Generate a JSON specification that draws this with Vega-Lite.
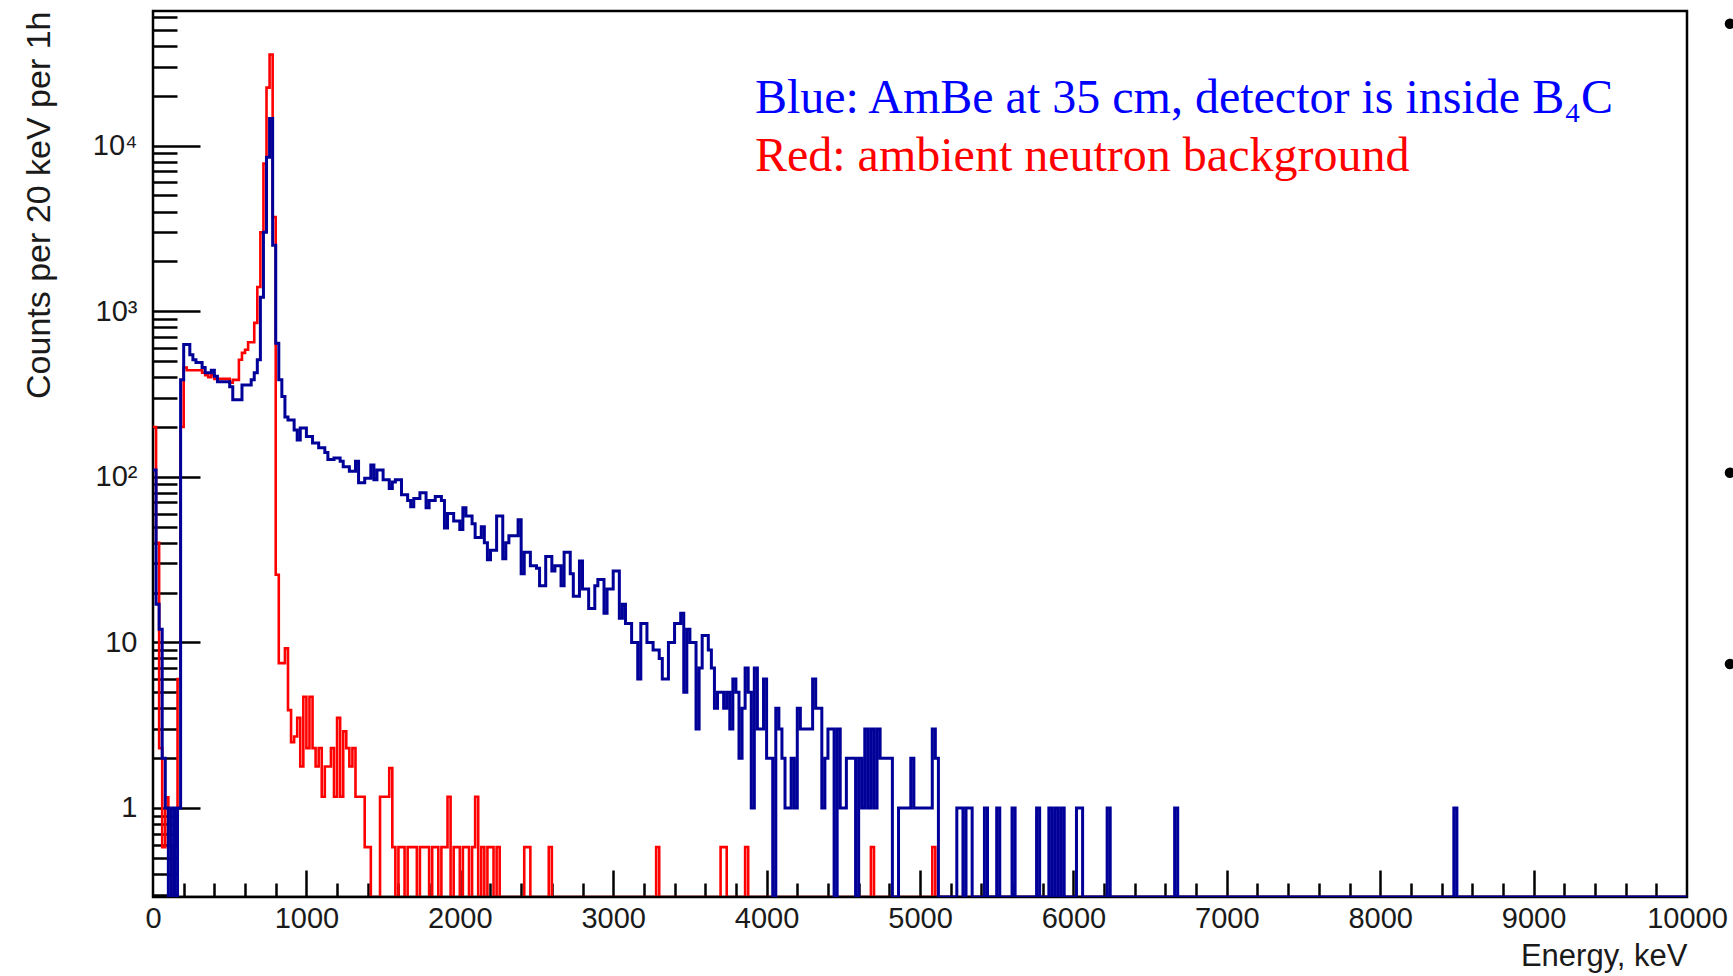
{
  "$schema": "https://vega.github.io/schema/vega-lite/v6.json",
  "width": 1534,
  "height": 886,
  "autosize": {"type": "none"},
  "padding": {"left": 153, "top": 11, "right": 46, "bottom": 79},
  "background": "white",
  "config": {"view": {"stroke": "black", "strokeWidth": 2.5}, "font": "Liberation Sans"},
  "datasets": {
    "spec": [
      {"e":0,"b":110,"r":200},{"e":20,"b":17,"r":40},{"e":40,"b":12,"r":2.3},{"e":60,"b":2,"r":0.58},{"e":80,"b":1,"r":1.16},
      {"e":100,"b":0,"r":0.58},{"e":120,"b":1,"r":0},{"e":140,"b":0,"r":0.58},{"e":160,"b":1,"r":6},{"e":180,"b":385,"r":200},
      {"e":200,"b":630,"r":457},{"e":220,"b":630,"r":440},{"e":240,"b":546,"r":440},{"e":260,"b":509,"r":440},{"e":280,"b":490,"r":440},
      {"e":300,"b":490,"r":440},{"e":320,"b":457,"r":425},{"e":340,"b":425,"r":410},{"e":360,"b":425,"r":400},{"e":380,"b":440,"r":410},
      {"e":400,"b":405,"r":390},{"e":420,"b":375,"r":390},{"e":440,"b":375,"r":390},{"e":460,"b":375,"r":390},{"e":480,"b":375,"r":390},
      {"e":500,"b":350,"r":370},{"e":520,"b":292,"r":385},{"e":540,"b":292,"r":385},{"e":560,"b":292,"r":509},{"e":580,"b":359,"r":560},
      {"e":600,"b":359,"r":585},{"e":620,"b":359,"r":650},{"e":640,"b":385,"r":650},{"e":660,"b":425,"r":850},{"e":680,"b":509,"r":1400},
      {"e":700,"b":1216,"r":3000},{"e":720,"b":3000,"r":7800},{"e":740,"b":8500,"r":22400},{"e":760,"b":14600,"r":35500},{"e":780,"b":2500,"r":3700},
      {"e":800,"b":640,"r":25.6},{"e":820,"b":385,"r":7.5},{"e":840,"b":305,"r":7.5},{"e":860,"b":230,"r":9.2},{"e":880,"b":220,"r":3.9},
      {"e":900,"b":220,"r":2.5},{"e":920,"b":192,"r":2.7},{"e":940,"b":167,"r":3.5},{"e":960,"b":197,"r":1.78},{"e":980,"b":197,"r":4.7},
      {"e":1000,"b":175,"r":2.3},{"e":1020,"b":175,"r":4.7},{"e":1040,"b":160,"r":2.3},{"e":1060,"b":160,"r":1.78},{"e":1080,"b":150,"r":2.3},
      {"e":1100,"b":150,"r":1.17},{"e":1120,"b":140,"r":1.78},{"e":1140,"b":127,"r":1.78},{"e":1160,"b":127,"r":2.3},{"e":1180,"b":130,"r":1.17},
      {"e":1200,"b":130,"r":3.5},{"e":1220,"b":124,"r":1.17},{"e":1240,"b":115,"r":2.9},{"e":1260,"b":115,"r":2.3},{"e":1280,"b":108,"r":1.78},
      {"e":1300,"b":108,"r":2.3},{"e":1320,"b":124,"r":1.17},{"e":1340,"b":92,"r":1.17},{"e":1360,"b":92,"r":1.17},{"e":1380,"b":98,"r":0.58},
      {"e":1400,"b":98,"r":0.58},{"e":1420,"b":118,"r":0},{"e":1440,"b":96,"r":0},{"e":1460,"b":110,"r":0},{"e":1480,"b":110,"r":1.17},
      {"e":1500,"b":96,"r":1.17},{"e":1520,"b":96,"r":1.17},{"e":1540,"b":85,"r":1.74},{"e":1560,"b":93,"r":0.58},{"e":1580,"b":96,"r":0},
      {"e":1600,"b":96,"r":0.58},{"e":1620,"b":78,"r":0.58},{"e":1640,"b":78,"r":0},{"e":1660,"b":72,"r":0.58},{"e":1680,"b":66,"r":0.58},
      {"e":1700,"b":74,"r":0.58},{"e":1720,"b":74,"r":0},{"e":1740,"b":80,"r":0.58},{"e":1760,"b":80,"r":0.58},{"e":1780,"b":65,"r":0.58},
      {"e":1800,"b":72,"r":0},{"e":1820,"b":72,"r":0.58},{"e":1840,"b":76,"r":0.58},{"e":1860,"b":76,"r":0},{"e":1880,"b":72,"r":0.58},
      {"e":1900,"b":49,"r":0.58},{"e":1920,"b":60,"r":1.17},{"e":1940,"b":60,"r":0},{"e":1960,"b":54,"r":0.58},{"e":1980,"b":54,"r":0.58},
      {"e":2000,"b":48,"r":0},{"e":2020,"b":65,"r":0.58},{"e":2040,"b":58,"r":0.58},{"e":2060,"b":58,"r":0},{"e":2080,"b":52,"r":0.58},
      {"e":2100,"b":43,"r":1.17},{"e":2120,"b":43,"r":0},{"e":2140,"b":50,"r":0.58},{"e":2160,"b":40,"r":0},{"e":2180,"b":31.5,"r":0.58},
      {"e":2200,"b":36,"r":0.58},{"e":2220,"b":36,"r":0},{"e":2240,"b":58,"r":0.58},{"e":2260,"b":58,"r":0},{"e":2280,"b":32,"r":0},
      {"e":2300,"b":40,"r":0},{"e":2320,"b":44,"r":0},{"e":2340,"b":44,"r":0},{"e":2360,"b":44,"r":0},{"e":2380,"b":55,"r":0},
      {"e":2400,"b":26,"r":0},{"e":2420,"b":35,"r":0.58},{"e":2440,"b":35,"r":0.58},{"e":2460,"b":29,"r":0},{"e":2480,"b":29,"r":0},
      {"e":2500,"b":28,"r":0},{"e":2520,"b":22,"r":0},{"e":2540,"b":22,"r":0},{"e":2560,"b":33,"r":0},{"e":2580,"b":33,"r":0.58},
      {"e":2600,"b":27,"r":0},{"e":2620,"b":29,"r":0},{"e":2640,"b":29,"r":0},{"e":2660,"b":22,"r":0},{"e":2680,"b":35,"r":0},
      {"e":2700,"b":35,"r":0},{"e":2720,"b":26,"r":0},{"e":2740,"b":19,"r":0},{"e":2760,"b":19,"r":0},{"e":2780,"b":31,"r":0},
      {"e":2800,"b":21,"r":0},{"e":2820,"b":21,"r":0},{"e":2840,"b":16,"r":0},{"e":2860,"b":16,"r":0},{"e":2880,"b":22,"r":0},
      {"e":2900,"b":24,"r":0},{"e":2920,"b":24,"r":0},{"e":2940,"b":15,"r":0},{"e":2960,"b":21,"r":0},{"e":2980,"b":21,"r":0},
      {"e":3000,"b":27,"r":0},{"e":3020,"b":27,"r":0},{"e":3040,"b":14,"r":0},{"e":3060,"b":17,"r":0},{"e":3080,"b":13,"r":0},
      {"e":3100,"b":13,"r":0},{"e":3120,"b":10,"r":0},{"e":3140,"b":10,"r":0},{"e":3160,"b":6,"r":0},{"e":3180,"b":13,"r":0},
      {"e":3200,"b":13,"r":0},{"e":3220,"b":10,"r":0},{"e":3240,"b":10,"r":0},{"e":3260,"b":9,"r":0},{"e":3280,"b":9,"r":0.58},
      {"e":3300,"b":8,"r":0},{"e":3320,"b":6,"r":0},{"e":3340,"b":6,"r":0},{"e":3360,"b":10,"r":0},{"e":3380,"b":10,"r":0},
      {"e":3400,"b":13,"r":0},{"e":3420,"b":13,"r":0},{"e":3440,"b":15,"r":0},{"e":3460,"b":5,"r":0},{"e":3480,"b":12,"r":0},
      {"e":3500,"b":10,"r":0},{"e":3520,"b":10,"r":0},{"e":3540,"b":3,"r":0},{"e":3560,"b":7,"r":0},{"e":3580,"b":11,"r":0},
      {"e":3600,"b":11,"r":0},{"e":3620,"b":9,"r":0},{"e":3640,"b":7,"r":0},{"e":3660,"b":4,"r":0},{"e":3680,"b":5,"r":0},
      {"e":3700,"b":5,"r":0.58},{"e":3720,"b":4,"r":0.58},{"e":3740,"b":5,"r":0},{"e":3760,"b":3,"r":0},{"e":3780,"b":6,"r":0},
      {"e":3800,"b":5,"r":0},{"e":3820,"b":2,"r":0},{"e":3840,"b":4,"r":0},{"e":3860,"b":7,"r":0.58},{"e":3880,"b":5,"r":0},
      {"e":3900,"b":1,"r":0},{"e":3920,"b":7,"r":0},{"e":3940,"b":3,"r":0},{"e":3960,"b":3,"r":0},{"e":3980,"b":6,"r":0},
      {"e":4000,"b":2,"r":0},{"e":4020,"b":2,"r":0},{"e":4040,"b":0,"r":0},{"e":4060,"b":4,"r":0},{"e":4080,"b":3,"r":0},
      {"e":4100,"b":2,"r":0},{"e":4120,"b":1,"r":0},{"e":4140,"b":1,"r":0},{"e":4160,"b":2,"r":0},{"e":4180,"b":1,"r":0},
      {"e":4200,"b":4,"r":0},{"e":4220,"b":3,"r":0},{"e":4240,"b":3,"r":0},{"e":4260,"b":3,"r":0},{"e":4280,"b":3,"r":0},
      {"e":4300,"b":6,"r":0},{"e":4320,"b":4,"r":0},{"e":4340,"b":4,"r":0},{"e":4360,"b":1,"r":0},{"e":4380,"b":2,"r":0},
      {"e":4400,"b":3,"r":0},{"e":4420,"b":3,"r":0},{"e":4440,"b":0,"r":0},{"e":4460,"b":3,"r":0},{"e":4480,"b":1,"r":0},
      {"e":4500,"b":1,"r":0},{"e":4520,"b":2,"r":0},{"e":4540,"b":2,"r":0},{"e":4560,"b":2,"r":0},{"e":4580,"b":0,"r":0},
      {"e":4600,"b":2,"r":0},{"e":4620,"b":1,"r":0},{"e":4640,"b":3,"r":0},{"e":4660,"b":1,"r":0},{"e":4680,"b":3,"r":0.58},
      {"e":4700,"b":1,"r":0},{"e":4720,"b":3,"r":0},{"e":4740,"b":2,"r":0},{"e":4760,"b":2,"r":0},{"e":4780,"b":2,"r":0},
      {"e":4800,"b":2,"r":0},{"e":4820,"b":0,"r":0},{"e":4840,"b":0,"r":0},{"e":4860,"b":1,"r":0},{"e":4880,"b":1,"r":0},
      {"e":4900,"b":1,"r":0},{"e":4920,"b":1,"r":0},{"e":4940,"b":2,"r":0},{"e":4960,"b":1,"r":0},{"e":4980,"b":1,"r":0},
      {"e":5000,"b":1,"r":0},{"e":5020,"b":1,"r":0},{"e":5040,"b":1,"r":0},{"e":5060,"b":1,"r":0},{"e":5080,"b":3,"r":0.58},
      {"e":5100,"b":2,"r":0},{"e":5120,"b":0,"r":0},{"e":5240,"b":1,"r":0},{"e":5260,"b":1,"r":0},{"e":5280,"b":0,"r":0},
      {"e":5300,"b":1,"r":0},{"e":5320,"b":1,"r":0},{"e":5340,"b":0,"r":0},{"e":5420,"b":1,"r":0},{"e":5440,"b":0,"r":0},
      {"e":5500,"b":1,"r":0},{"e":5520,"b":0,"r":0},{"e":5600,"b":1,"r":0},{"e":5620,"b":0,"r":0},{"e":5760,"b":1,"r":0},
      {"e":5780,"b":0,"r":0},{"e":5840,"b":1,"r":0},{"e":5860,"b":0,"r":0},{"e":5880,"b":1,"r":0},{"e":5900,"b":0,"r":0},
      {"e":5920,"b":1,"r":0},{"e":5940,"b":0,"r":0},{"e":6020,"b":1,"r":0},{"e":6040,"b":1,"r":0},{"e":6060,"b":0,"r":0},
      {"e":6220,"b":1,"r":0},{"e":6240,"b":0,"r":0},{"e":6660,"b":1,"r":0},{"e":6680,"b":0,"r":0},{"e":8480,"b":1,"r":0},
      {"e":8500,"b":0,"r":0},{"e":10000,"b":0,"r":0}
    ],
    "frame": [{"e0": 0, "e1": 10000, "c": 0}],
    "notes": [
      {"e": 3924, "c": 15820, "t": "Blue: AmBe at 35 cm, detector is inside B₄C", "s": "Blue"},
      {"e": 3924, "c": 7060, "t": "Red: ambient neutron background", "s": "Red"}
    ],
    "dots": [{"e": 10280, "c": 54400}, {"e": 10280, "c": 105.7}, {"e": 10280, "c": 7.41}]
  },
  "resolve": {"axis": {"x": "independent", "y": "independent"}},
  "layer": [
    {
      "data": {"name": "spec"},
      "mark": {"type": "line", "interpolate": "step-after", "color": "#ff0000", "strokeWidth": 2.6, "clip": true},
      "encoding": {
        "x": {"field": "e", "type": "quantitative",
          "scale": {"domain": [0, 10000], "nice": false, "zero": false},
          "axis": {"orient": "bottom", "values": [0,1000,2000,3000,4000,5000,6000,7000,8000,9000,10000], "format": "d",
            "ticks": false, "tickSize": 0, "domain": false, "grid": false,
            "labelFont": "Liberation Sans", "labelFontSize": 29, "labelColor": "#1a1a1a", "labelPadding": 7,
            "labelFlush": false, "labelOverlap": false,
            "title": "Energy, keV", "titleAnchor": "end", "titleAlign": "right", "titleFont": "Liberation Sans",
            "titleFontSize": 31, "titleFontWeight": "normal", "titleColor": "#1a1a1a", "titlePadding": 8}},
        "y": {"field": "r", "type": "quantitative",
          "scale": {"type": "log", "domain": [0.29, 65000], "nice": false, "clamp": true},
          "axis": {"orient": "left", "values": [1, 10, 100, 1000, 10000],
            "labelExpr": "datum.value == 1 ? '1' : datum.value == 10 ? '10' : datum.value == 100 ? '10²' : datum.value == 1000 ? '10³' : '10⁴'",
            "ticks": false, "tickSize": 0, "domain": false, "grid": false,
            "labelFont": "Liberation Sans", "labelFontSize": 29, "labelColor": "#1a1a1a", "labelPadding": 16,
            "labelFlush": false, "labelOverlap": false,
            "title": "Counts per 20 keV per 1h", "titleAnchor": "end", "titleFont": "Liberation Sans",
            "titleFontSize": 34, "titleFontWeight": "normal", "titleColor": "#1a1a1a", "titlePadding": 36}}
      }
    },
    {
      "data": {"name": "frame"},
      "mark": {"type": "rule", "color": "black", "strokeWidth": 2.5, "clip": true},
      "encoding": {
        "x": {"field": "e0", "type": "quantitative",
          "scale": {"domain": [0, 10000], "nice": false, "zero": false},
          "axis": {"orient": "bottom", "values": [200,400,600,800,1200,1400,1600,1800,2200,2400,2600,2800,3200,3400,3600,3800,4200,4400,4600,4800,5200,5400,5600,5800,6200,6400,6600,6800,7200,7400,7600,7800,8200,8400,8600,8800,9200,9400,9600,9800],
            "labels": false, "domain": false, "grid": false, "title": null, "tickSize": -14, "tickWidth": 2.5, "tickColor": "black"}},
        "x2": {"field": "e1"},
        "y": {"field": "c", "type": "quantitative",
          "scale": {"type": "log", "domain": [0.29, 65000], "nice": false, "clamp": true},
          "axis": {"orient": "left", "values": [0.3,0.4,0.5,0.6,0.7,0.8,0.9,2,3,4,5,6,7,8,9,20,30,40,50,60,70,80,90,200,300,400,500,600,700,800,900,2000,3000,4000,5000,6000,7000,8000,9000,20000,30000,40000,50000,60000],
            "labels": false, "domain": false, "grid": false, "title": null, "tickSize": -24, "tickWidth": 2.5, "tickColor": "black"}}
      }
    },
    {
      "data": {"name": "spec"},
      "mark": {"type": "line", "interpolate": "step-after", "color": "#000099", "strokeWidth": 3, "clip": true},
      "encoding": {
        "x": {"field": "e", "type": "quantitative",
          "scale": {"domain": [0, 10000], "nice": false, "zero": false},
          "axis": {"orient": "bottom", "values": [1000,2000,3000,4000,5000,6000,7000,8000,9000],
            "labels": false, "domain": false, "grid": false, "title": null, "tickSize": -27, "tickWidth": 2.5, "tickColor": "black"}},
        "y": {"field": "b", "type": "quantitative",
          "scale": {"type": "log", "domain": [0.29, 65000], "nice": false, "clamp": true},
          "axis": {"orient": "left", "values": [1, 10, 100, 1000, 10000],
            "labels": false, "domain": false, "grid": false, "title": null, "tickSize": -47, "tickWidth": 2.5, "tickColor": "black"}}
      }
    },
    {
      "data": {"name": "notes"},
      "mark": {"type": "text", "align": "left", "baseline": "alphabetic", "font": "Liberation Serif", "fontSize": 48, "clip": false},
      "encoding": {
        "x": {"field": "e", "type": "quantitative", "scale": {"domain": [0, 10000], "nice": false, "zero": false}, "axis": null},
        "y": {"field": "c", "type": "quantitative", "scale": {"type": "log", "domain": [0.29, 65000], "nice": false, "clamp": true}, "axis": null},
        "text": {"field": "t"},
        "color": {"field": "s", "type": "nominal", "scale": {"domain": ["Blue", "Red"], "range": ["#0000ff", "#ff0000"]}, "legend": null}
      }
    },
    {
      "data": {"name": "dots"},
      "mark": {"type": "point", "shape": "circle", "filled": true, "color": "black", "opacity": 1, "size": 110, "clip": false},
      "encoding": {
        "x": {"field": "e", "type": "quantitative", "scale": {"domain": [0, 10000], "nice": false, "zero": false}, "axis": null},
        "y": {"field": "c", "type": "quantitative", "scale": {"type": "log", "domain": [0.29, 65000], "nice": false, "clamp": true}, "axis": null}
      }
    }
  ]
}
